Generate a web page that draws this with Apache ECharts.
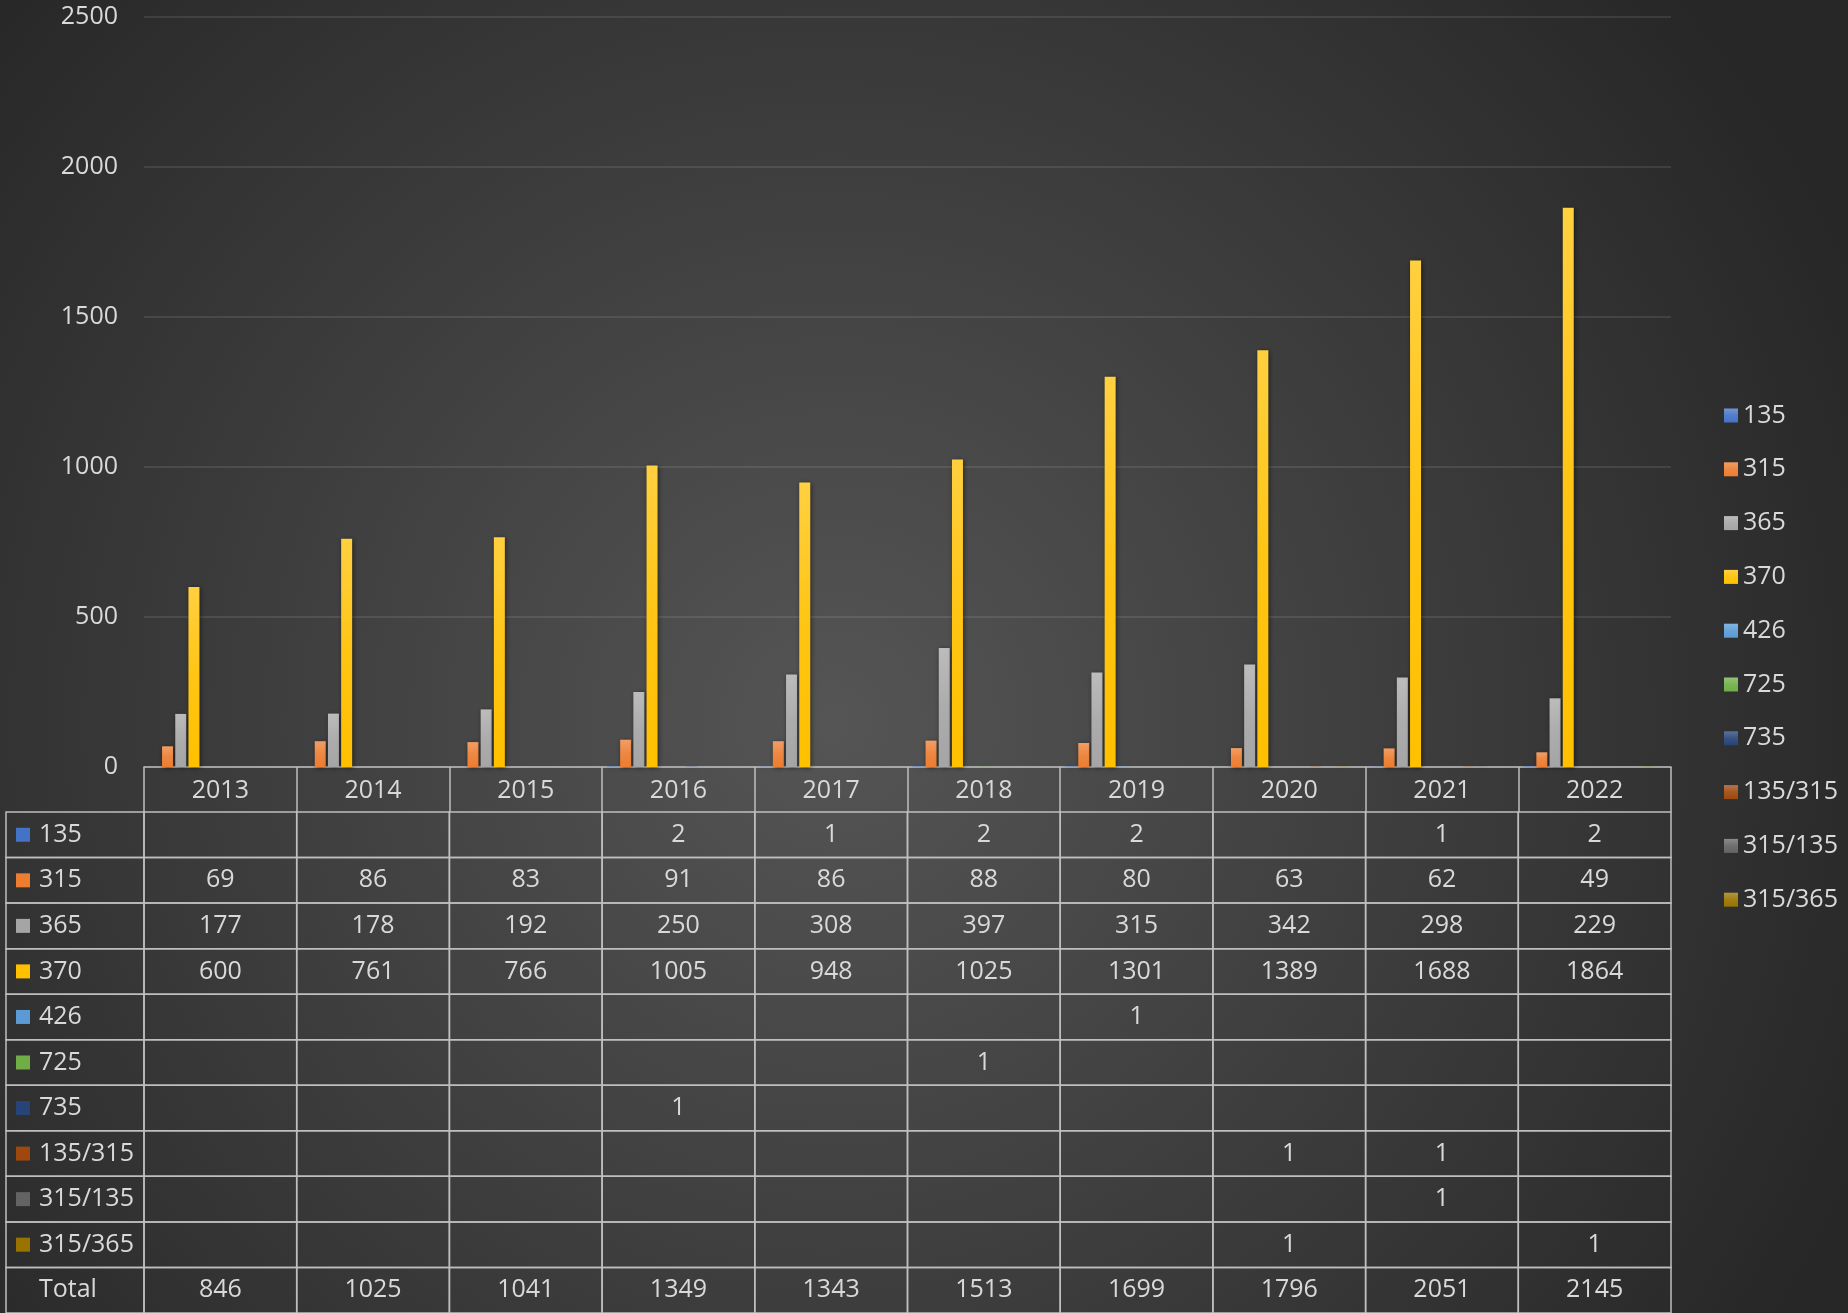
<!DOCTYPE html>
<html>
<head>
<meta charset="utf-8">
<title>Chart</title>
<script src="https://cdn.jsdelivr.net/npm/echarts@6/dist/echarts.min.js"></script>
<style>
	html, body { margin: 0; padding: 0; }
	#main { width: 1848px; height: 1313px; }
</style>
</head>
<body>
<div id="main"></div>
<script>
var years = ['2013', '2014', '2015', '2016', '2017', '2018', '2019', '2020', '2021', '2022'];

// one array per series, null = empty cell in the data table
var s135 = [null, null, null, 2, 1, 2, 2, null, 1, 2];
var s315 = [69, 86, 83, 91, 86, 88, 80, 63, 62, 49];
var s365 = [177, 178, 192, 250, 308, 397, 315, 342, 298, 229];
var s370 = [600, 761, 766, 1005, 948, 1025, 1301, 1389, 1688, 1864];
var s426 = [null, null, null, null, null, null, 1, null, null, null];
var s725 = [null, null, null, null, null, 1, null, null, null, null];
var s735 = [null, null, null, 1, null, null, null, null, null, null];
var s135_315 = [null, null, null, null, null, null, null, 1, 1, null];
var s315_135 = [null, null, null, null, null, null, null, null, 1, null];
var s315_365 = [null, null, null, null, null, null, null, 1, null, 1];
var totals = [846, 1025, 1041, 1349, 1343, 1513, 1699, 1796, 2051, 2145];

var seriesNames = ['135', '315', '365', '370', '426', '725', '735', '135/315', '315/135', '315/365'];
var seriesData = [s135, s315, s365, s370, s426, s725, s735, s135_315, s315_135, s315_365];
var yTicks = [0, 500, 1000, 1500, 2000, 2500];

var COLORS = ['#4472c4', '#ed7d31', '#a5a5a5', '#ffc000', '#5b9bd5',
	'#70ad47', '#264478', '#9e480e', '#636363', '#997300'];

var FONT = 'Open Sans';
var TEXT_COLOR = '#d9d9d9';
var LINE_COLOR = '#bfbfbf';
var FONT_SIZE = 25;
// left edge of the row label column of the table
var TABLE_LEFT = 6;

var myChart = echarts.init(document.getElementById('main'));

// mix a hex colour with white (t = 0..1)
function lighten(hex, t) {
	var n = parseInt(hex.slice(1), 16);
	var r = (n >> 16) & 255, g = (n >> 8) & 255, b = n & 255;
	r = Math.round(r + (255 - r) * t);
	g = Math.round(g + (255 - g) * t);
	b = Math.round(b + (255 - b) * t);
	return 'rgb(' + r + ',' + g + ',' + b + ')';
}

function barGradient(c) {
	return new echarts.graphic.LinearGradient(0, 0, 0, 1, [
		{ offset: 0, color: lighten(c, 0.25) },
		{ offset: 0.5, color: lighten(c, 0.08) },
		{ offset: 1, color: c }
	]);
}

// rows of the data table: the series plus Total
var tableRows = seriesNames.concat(['Total']);
var tableValues = seriesData.concat([totals]);

function tableData() {
	var out = [];
	for (var r = 0; r < tableRows.length; r++) {
		for (var c = 0; c < years.length; c++) {
			out.push([c, r]);
		}
	}
	return out;
}

function renderCell(params, api) {
	var c = api.value(0);
	var r = api.value(1);
	var p = api.coord([c, r]);
	var s = api.size([1, 1]);
	var x0 = p[0] - s[0] / 2;
	var y0 = p[1] - s[1] / 2;
	var v = tableValues[r][c];
	var children = [{
		type: 'rect',
		shape: { x: x0, y: y0, width: s[0], height: s[1] },
		style: { fill: 'none', stroke: LINE_COLOR, lineWidth: 1.5 }
	}, {
		type: 'text',
		style: {
			text: v == null ? '' : String(v),
			x: p[0], y: p[1],
			align: 'center', verticalAlign: 'middle',
			fill: TEXT_COLOR, fontSize: FONT_SIZE, fontFamily: FONT
		}
	}];
	// first column also draws the row label cell
	if (c === 0) {
		children.push({
			type: 'rect',
			shape: { x: TABLE_LEFT, y: y0, width: x0 - TABLE_LEFT, height: s[1] },
			style: { fill: 'none', stroke: LINE_COLOR, lineWidth: 1.5 }
		});
		if (r < seriesNames.length) {
			children.push({
				type: 'rect',
				shape: { x: TABLE_LEFT + 10, y: p[1] - 7, width: 14, height: 14 },
				style: { fill: COLORS[r] }
			});
		}
		children.push({
			type: 'text',
			style: {
				text: tableRows[r],
				x: TABLE_LEFT + 33, y: p[1],
				align: 'left', verticalAlign: 'middle',
				fill: TEXT_COLOR, fontSize: FONT_SIZE, fontFamily: FONT
			}
		});
	}
	return { type: 'group', children: children };
}

var series = [];
for (var i = 0; i < seriesNames.length; i++) {
	series.push({
		name: seriesNames[i],
		type: 'bar',
		xAxisIndex: 0,
		yAxisIndex: 0,
		data: seriesData[i],
		barWidth: 11,
		barGap: '20%',
		itemStyle: {
			color: barGradient(COLORS[i]),
			shadowBlur: 5,
			shadowColor: 'rgba(0,0,0,0.5)',
			shadowOffsetX: 1,
			shadowOffsetY: 1
		}
	});
}
// Total is a series in the chart too, but without fill
series.push({
	name: 'Total',
	type: 'bar',
	xAxisIndex: 0,
	yAxisIndex: 0,
	data: totals,
	barWidth: 11,
	barGap: '20%',
	silent: true,
	itemStyle: { color: 'rgba(0,0,0,0)' }
});
series.push({
	name: 'table',
	type: 'custom',
	xAxisIndex: 1,
	yAxisIndex: 1,
	clip: false,
	silent: true,
	renderItem: renderCell,
	data: tableData()
});

var option = {
	backgroundColor: {
		type: 'radial', x: 0.45, y: 0.55, r: 0.85,
		colorStops: [
			{ offset: 0, color: '#555555' },
			{ offset: 1, color: '#272727' }
		]
	},
	animation: false,
	textStyle: { fontFamily: FONT },
	legend: {
		orient: 'vertical',
		left: 1719,
		top: 398,
		itemWidth: 14,
		itemHeight: 14,
		itemGap: 28.8,
		icon: 'rect',
		data: seriesNames,
		textStyle: { color: TEXT_COLOR, fontSize: FONT_SIZE, fontFamily: FONT }
	},
	grid: [
		{ left: 144, right: 177, top: 17, height: 750 },
		{ left: 144, right: 177, top: 812, height: 506 }
	],
	xAxis: [{
		type: 'category',
		gridIndex: 0,
		data: years,
		axisLine: { lineStyle: { color: LINE_COLOR, width: 1.5 } },
		axisTick: { show: true, length: 45, lineStyle: { color: LINE_COLOR, width: 1.5 } },
		axisLabel: { color: TEXT_COLOR, fontSize: FONT_SIZE, fontFamily: FONT, margin: 11 },
		splitLine: { show: false }
	}, {
		type: 'category',
		gridIndex: 1,
		data: years,
		show: false
	}],
	yAxis: [{
		type: 'value',
		gridIndex: 0,
		min: yTicks[0],
		max: yTicks[yTicks.length - 1],
		interval: yTicks[1] - yTicks[0],
		axisLine: { show: false },
		axisTick: { show: false },
		axisLabel: {
			color: TEXT_COLOR, fontSize: FONT_SIZE, fontFamily: FONT, margin: 26,
			formatter: function(v) { return String(v); }
		},
		splitLine: { lineStyle: { color: 'rgba(255,255,255,0.13)', width: 1.5 } }
	}, {
		type: 'category',
		gridIndex: 1,
		data: tableRows,
		inverse: true,
		show: false
	}],
	series: series
};

myChart.setOption(option);
</script>
</body>
</html>
